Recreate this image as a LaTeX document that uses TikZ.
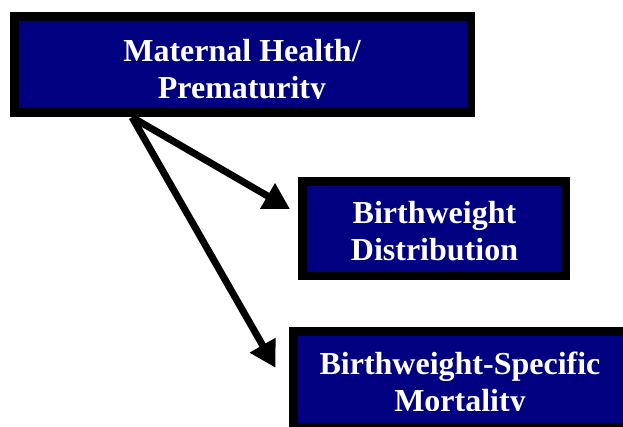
\documentclass[tikz,border=0pt]{standalone}
\usepackage{fontspec}
\setmainfont{Liberation Serif}
\usetikzlibrary{arrows.meta,calc}
\definecolor{boxnavy}{RGB}{0,0,128}
\begin{document}
\begin{tikzpicture}[x=1pt,y=1pt,
  box/.style={draw=black, fill=boxnavy, line width=8.5pt, inner sep=0pt},
  lbl/.style={text=white, font=\bfseries\fontsize{32}{36.5}\selectfont, align=center, inner sep=0pt},
  link/.style={line width=7pt, -{Triangle[length=26pt,width=28pt]}}]
\useasboundingbox (0,0) rectangle (623,-426);
\clip (0,0) rectangle (623,-426);
\node[box, minimum width=456.5pt, minimum height=96pt] (b1) at (242.5,-64.25) {};
\node[box, minimum width=263.5pt, minimum height=94.5pt] (b2) at (434,-228.5) {};
\node[box, minimum width=333.5pt, minimum height=96pt] (b3) at (460,-379.25) {};
\coordinate (s) at ($(b1.south west)+(122pt,-0.75pt)$);
\draw[link] (s) -- ($(b2.west)+(-8pt,19.5pt)$);
\draw[link] (s) -- ($(b3.west)+(-13.5pt,11.5pt)$);
\begin{scope}
  \clip (0,0) rectangle (623,-98.5);
  \node[lbl] (t1) at (242,-72.2) {Maternal Health/\\Prematurity};
\end{scope}
\node[lbl] (t2) at (434.5,-231.3) {Birthweight\\Distribution};
\begin{scope}
  \clip (0,-300) rectangle (623,-410.5);
  \node[lbl] (t3) at (460,-385.1) {Birthweight-Specific\\Mortality};
\end{scope}
\end{tikzpicture}
\end{document}
